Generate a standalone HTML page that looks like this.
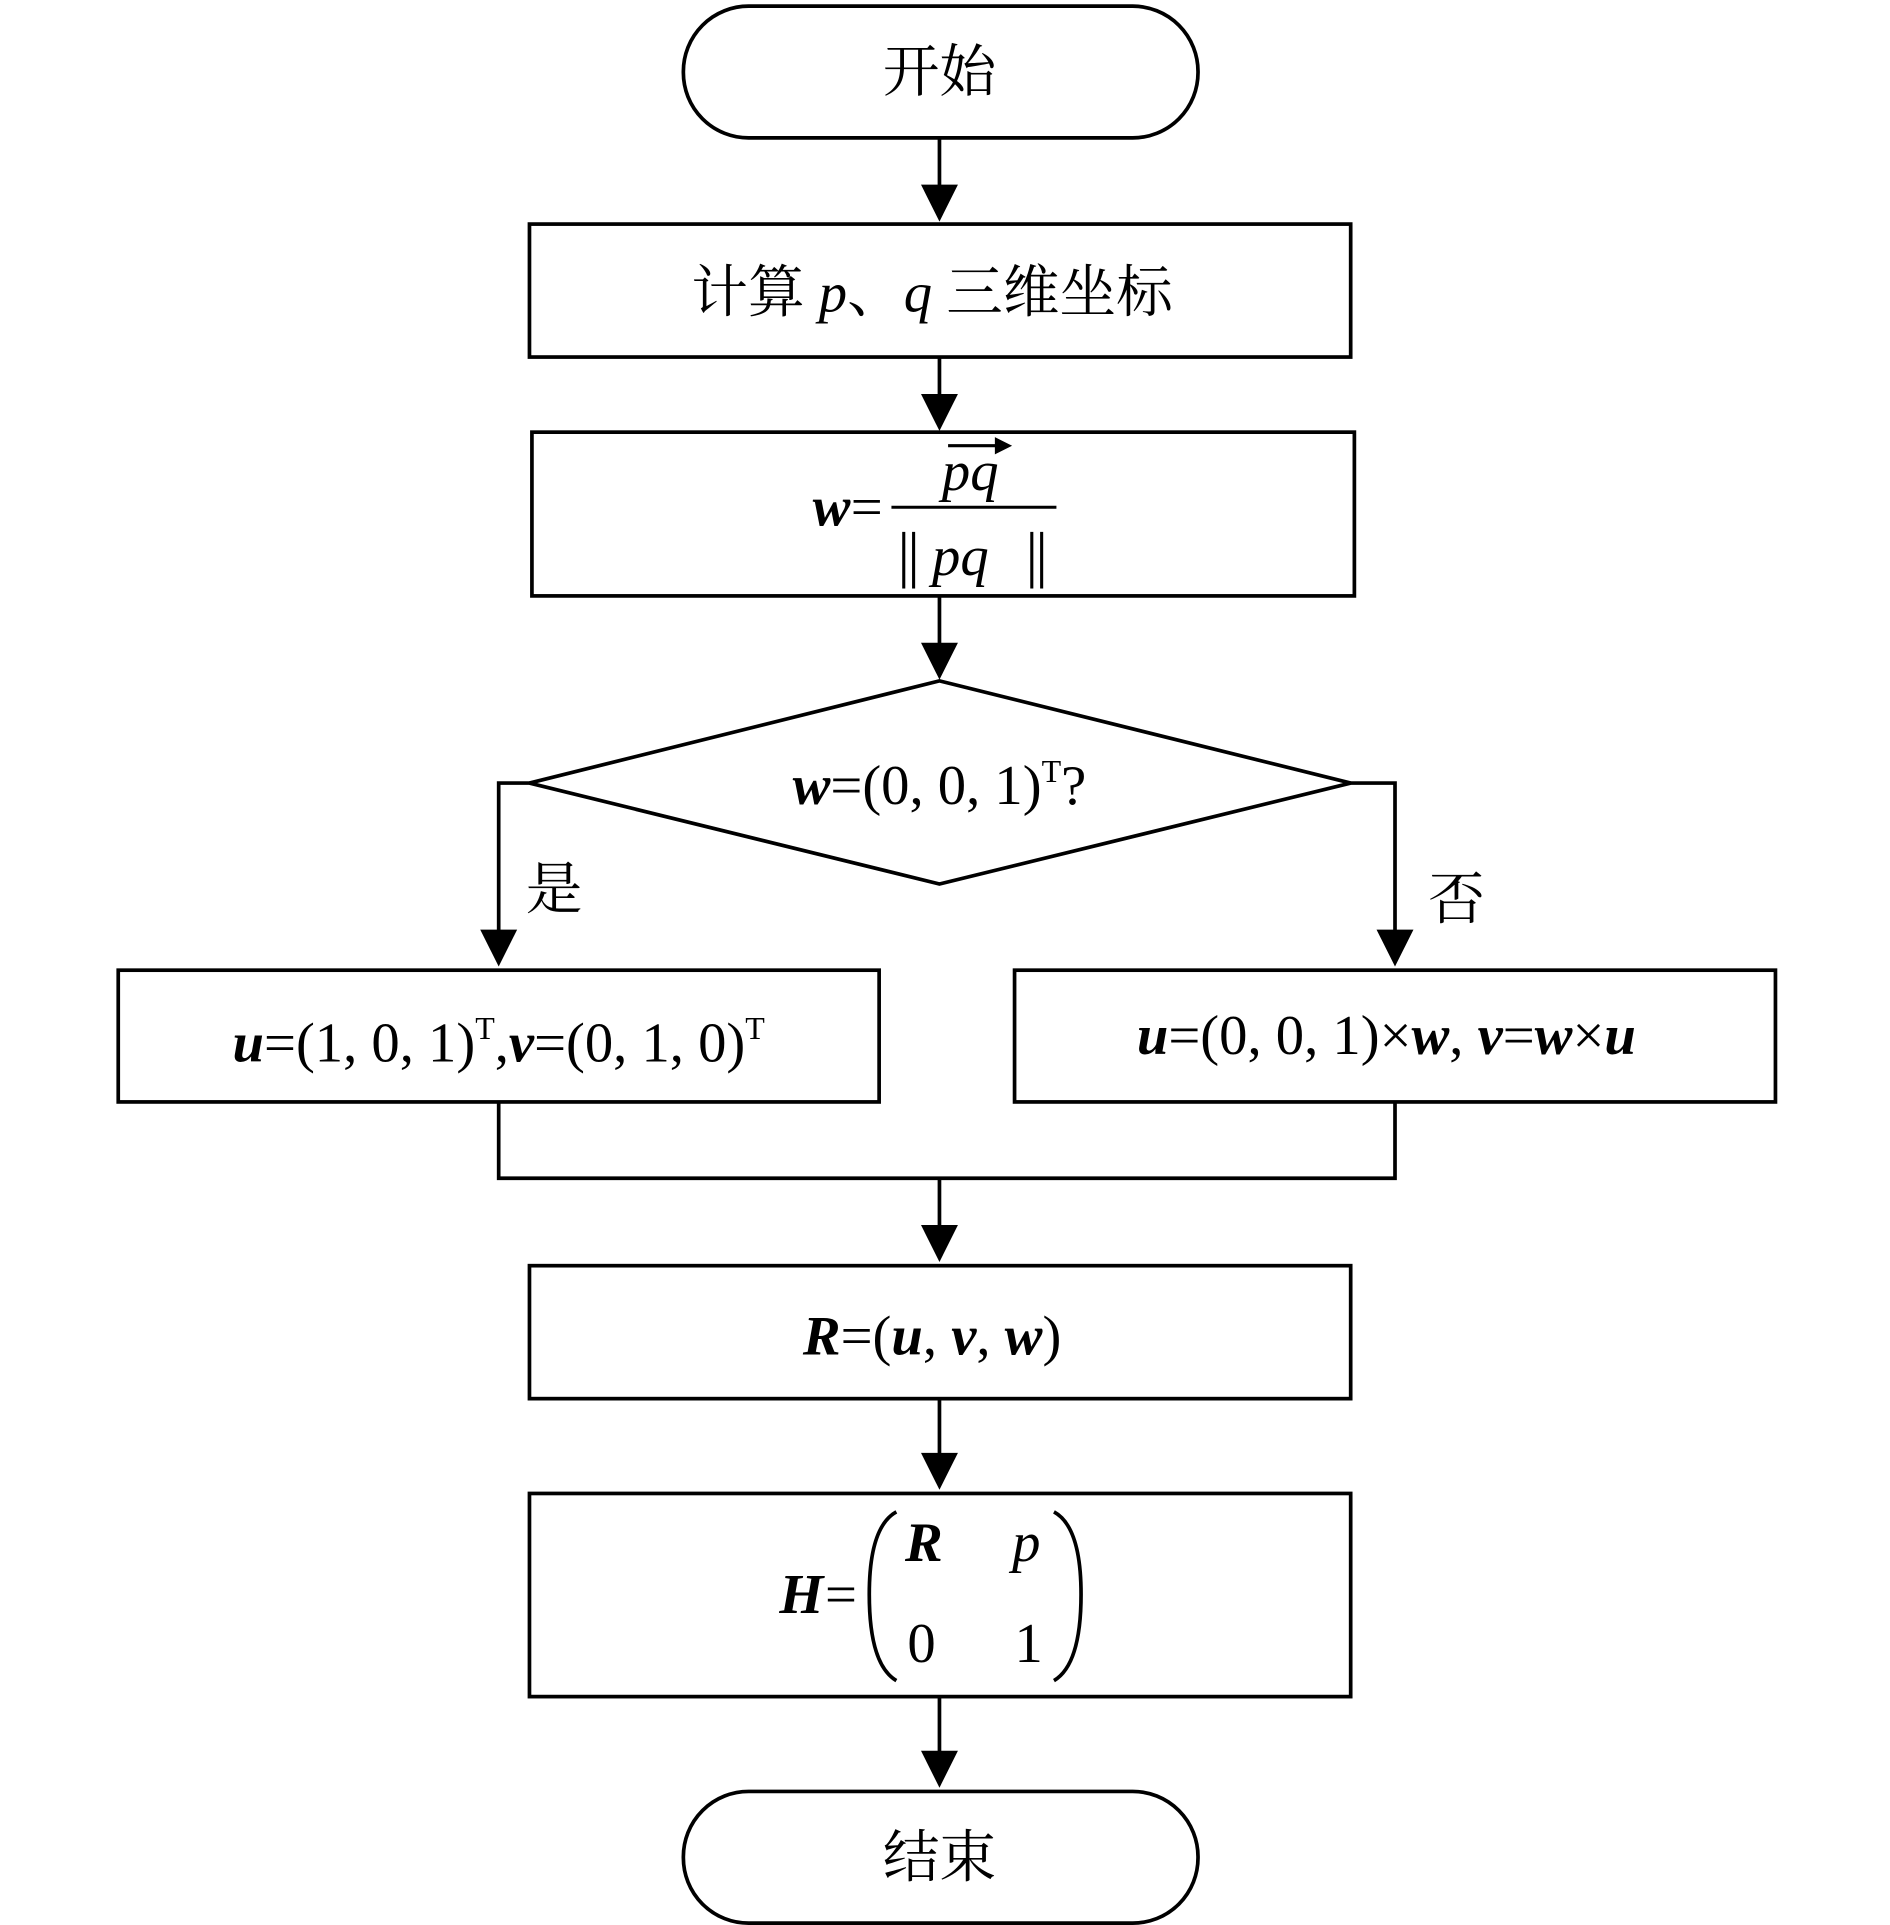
<!DOCTYPE html>
<html><head><meta charset="utf-8"><style>
html,body{margin:0;padding:0;background:#fff;}
svg{display:block;}
text{font-family:"Liberation Serif","Noto Serif CJK SC",serif;fill:#000;}
.cjk{font-family:"Noto Serif CJK SC","Noto Sans CJK SC",serif;}
</style></head><body>
<svg width="1890" height="1925" viewBox="0 0 1535 1563.5" xmlns="http://www.w3.org/2000/svg">
<defs>
<marker id="a" markerWidth="10" markerHeight="10" refX="10" refY="5" orient="auto" markerUnits="userSpaceOnUse" viewBox="0 0 10 10">
</marker>
</defs>
<g fill="none" stroke="#000" stroke-width="3">
<rect x="555" y="5" width="418" height="107" rx="53"/>
<rect x="430" y="182" width="667" height="108"/>
<rect x="432" y="351" width="668" height="133"/>
<polygon points="763,553 1097,636 763,718 430,636"/>
<rect x="96" y="788" width="618" height="107"/>
<rect x="824" y="788" width="618" height="107"/>
<rect x="430" y="1028" width="667" height="108"/>
<rect x="430" y="1213" width="667" height="165"/>
<rect x="555" y="1455" width="418" height="107" rx="53"/>
<line x1="763" y1="112" x2="763" y2="152"/>
<line x1="763" y1="290" x2="763" y2="322"/>
<line x1="763" y1="484" x2="763" y2="524"/>
<polyline points="430,636 405,636 405,757"/>
<polyline points="1097,636 1133,636 1133,757"/>
<polyline points="405,895 405,957 1133,957 1133,895"/>
<line x1="763" y1="957" x2="763" y2="997"/>
<line x1="763" y1="1136" x2="763" y2="1182"/>
<line x1="763" y1="1378" x2="763" y2="1424"/>
</g>
<g fill="#000">
<polygon points="748,150 778,150 763,180"/>
<polygon points="748,320 778,320 763,350"/>
<polygon points="748,522 778,522 763,552"/>
<polygon points="390,755 420,755 405,785"/>
<polygon points="1118,755 1148,755 1133,785"/>
<polygon points="748,995 778,995 763,1025"/>
<polygon points="748,1180 778,1180 763,1210"/>
<polygon points="748,1422 778,1422 763,1452"/>
</g>
<g font-size="46" text-anchor="middle">
<text x="763" y="74" class="cjk">开始</text>
<text x="763" y="1524" class="cjk">结束</text>
<text x="450" y="738" class="cjk">是</text>
<text x="1183" y="746" class="cjk">否</text>
<text x="757" y="253"><tspan class="cjk">计算</tspan> <tspan font-style="italic">p</tspan><tspan class="cjk">、</tspan><tspan font-style="italic">q</tspan> <tspan class="cjk">三维坐标</tspan></text>
<text x="763" y="653">
<tspan font-style="italic" font-weight="bold">w</tspan>=(0, 0, 1)<tspan font-size="26" dy="-18">T</tspan><tspan dy="18">?</tspan></text>
<text x="405" y="862"><tspan font-style="italic" font-weight="bold">u</tspan>=(1, 0, 1)<tspan font-size="26" dy="-18">T</tspan><tspan dy="18">,</tspan><tspan font-style="italic" font-weight="bold">v</tspan>=(0, 1, 0)<tspan font-size="26" dy="-18">T</tspan></text>
<text x="1126" y="856"><tspan font-style="italic" font-weight="bold">u</tspan>=(0, 0, 1)×<tspan font-style="italic" font-weight="bold">w</tspan>, <tspan font-style="italic" font-weight="bold">v</tspan>=<tspan font-style="italic" font-weight="bold">w</tspan>×<tspan font-style="italic" font-weight="bold">u</tspan></text>
<text x="757" y="1100"><tspan font-style="italic" font-weight="bold">R</tspan>=(<tspan font-style="italic" font-weight="bold">u</tspan>, <tspan font-style="italic" font-weight="bold">v</tspan>, <tspan font-style="italic" font-weight="bold">w</tspan>)</text>
</g>
<!-- w formula -->
<g font-size="46">
<text x="660" y="427" font-style="italic" font-weight="bold">w</text>
<text x="691" y="427">=</text>
<line x1="724" y1="412" x2="858" y2="412" stroke="#000" stroke-width="2.5"/>
<text x="765" y="398" font-style="italic">pq</text>
<line x1="770" y1="362" x2="814" y2="362" stroke="#000" stroke-width="2.5"/>
<polygon points="808,355 822,362 808,369" fill="#000"/>
<line x1="734" y1="432" x2="734" y2="478" stroke="#000" stroke-width="2.5"/>
<line x1="742" y1="432" x2="742" y2="478" stroke="#000" stroke-width="2.5"/>
<text x="757" y="467" font-style="italic">pq</text>
<line x1="838" y1="432" x2="838" y2="478" stroke="#000" stroke-width="2.5"/>
<line x1="846" y1="432" x2="846" y2="478" stroke="#000" stroke-width="2.5"/>
</g>
<!-- H matrix -->
<g font-size="46">
<text x="633" y="1310" font-style="italic" font-weight="bold">H</text>
<text x="670" y="1310">=</text>
<path d="M728,1228 Q706,1240 706,1295 Q706,1352 728,1365" fill="none" stroke="#000" stroke-width="3"/>
<path d="M856,1228 Q878,1240 878,1295 Q878,1352 856,1365" fill="none" stroke="#000" stroke-width="3"/>
<text x="735" y="1268" font-style="italic" font-weight="bold">R</text>
<text x="822" y="1268" font-style="italic">p</text>
<text x="737" y="1350">0</text>
<text x="824" y="1350">1</text>
</g>
</svg>
</body></html>
